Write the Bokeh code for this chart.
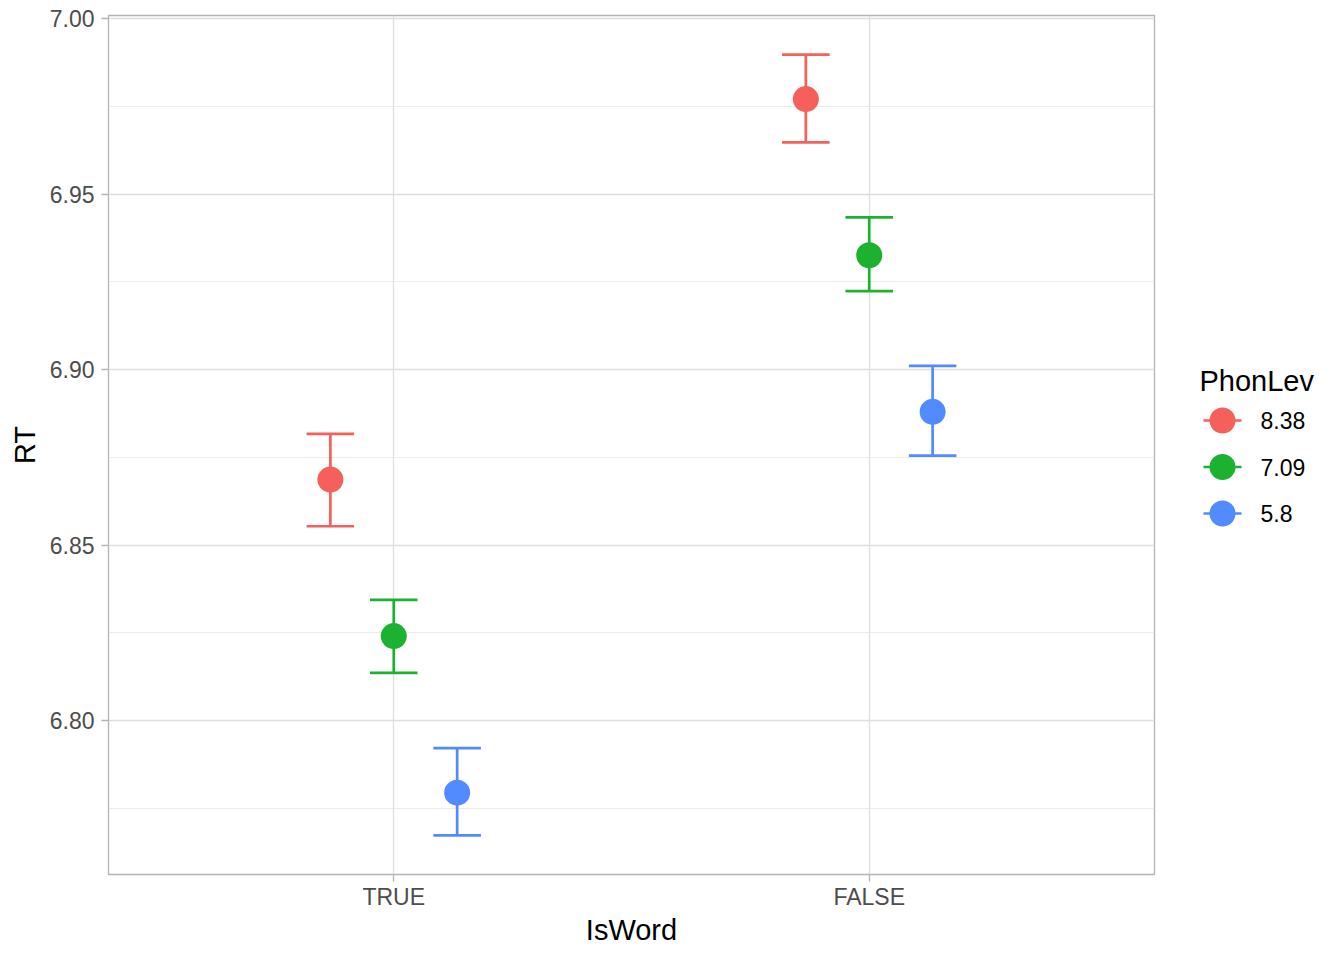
from bokeh.plotting import figure
from bokeh.models import ColumnDataSource, FactorRange, Range1d, SingleIntervalTicker, NumeralTickFormatter
from bokeh.transform import dodge
from bokeh.layouts import row
from bokeh.core.properties import value
from bokeh.embed import file_html
from bokeh.resources import INLINE

# ---------------- data ----------------
isword = ["TRUE", "FALSE"]
phonlev = ["8.38", "7.09", "5.8"]
colors = ["#F5605A", "#1CB230", "#528BFF"]

rt_838 = [6.8687, 6.9771]
lo_838 = [6.8554, 6.9648]
hi_838 = [6.8817, 6.9898]

rt_709 = [6.8241, 6.9326]
lo_709 = [6.8136, 6.9224]
hi_709 = [6.8344, 6.9434]

rt_58 = [6.7795, 6.8880]
lo_58 = [6.7673, 6.8755]
hi_58 = [6.7922, 6.9011]

means = [rt_838, rt_709, rt_58]
lows = [lo_838, lo_709, lo_58]
highs = [hi_838, hi_709, hi_58]

FONT = "Liberation Sans"

# ggplot-like 5% expansion of the y range
ymin = min(min(l) for l in lows)
ymax = max(max(h) for h in highs)
pad = (ymax - ymin) * 0.05

TOP, BOTTOM, LEFT, RIGHT = 15, 84, 108, 4
FW, FH = 1046, 859

p = figure(
    x_range=FactorRange(factors=isword, range_padding=0.1, range_padding_units="absolute"),
    y_range=Range1d(ymin - pad, ymax + pad),
    frame_width=FW, frame_height=FH,
    min_border_left=LEFT, min_border_right=RIGHT, min_border_top=TOP, min_border_bottom=BOTTOM,
    output_backend="svg", toolbar_location=None,
    background_fill_color="white", border_fill_color="white",
    x_axis_label="IsWord", y_axis_label="RT",
)

dodge_width = 0.4
cap_half = 0.05
n = len(phonlev)
for i, lev in enumerate(phonlev):
    off = (i - (n - 1) / 2) * dodge_width / n
    src = ColumnDataSource(dict(x=isword, y=means[i], lo=lows[i], hi=highs[i]))
    c = colors[i]
    p.segment(x0=dodge("x", off, range=p.x_range), x1=dodge("x", off, range=p.x_range),
              y0="lo", y1="hi", source=src, line_color=c, line_width=2.7)
    p.segment(x0=dodge("x", off - cap_half, range=p.x_range), x1=dodge("x", off + cap_half, range=p.x_range),
              y0="hi", y1="hi", source=src, line_color=c, line_width=2.7)
    p.segment(x0=dodge("x", off - cap_half, range=p.x_range), x1=dodge("x", off + cap_half, range=p.x_range),
              y0="lo", y1="lo", source=src, line_color=c, line_width=2.7)
    p.scatter(x=dodge("x", off, range=p.x_range), y="y", source=src, size=26,
              fill_color=c, line_color=c, line_width=0)

# axes
p.yaxis.ticker = SingleIntervalTicker(interval=0.05, num_minor_ticks=2)
p.yaxis.formatter = NumeralTickFormatter(format="0.00")
for ax in (p.xaxis, p.yaxis):
    ax.axis_line_color = None
    ax.major_tick_out = 7
    ax.major_tick_in = 0
    ax.major_tick_line_color = "#B3B3B3"
    ax.major_tick_line_width = 1.3
    ax.minor_tick_line_color = None
    ax.major_label_text_font = FONT
    ax.major_label_text_font_size = "23px"
    ax.major_label_text_color = "#4D4D4D"
    ax.axis_label_text_font = FONT
    ax.axis_label_text_font_size = "29px"
    ax.axis_label_text_font_style = "normal"
    ax.axis_label_text_color = "black"
p.xaxis.major_label_standoff = 2
p.yaxis.major_label_standoff = 7
p.xaxis.axis_label_standoff = 1
p.yaxis.axis_label_standoff = 6

p.xgrid.grid_line_color = "#DEDEDE"
p.xgrid.grid_line_width = 1.3
p.ygrid.grid_line_color = "#DEDEDE"
p.ygrid.grid_line_width = 1.3
p.ygrid.minor_grid_line_color = "#E6E6E6"
p.ygrid.minor_grid_line_width = 0.8

p.outline_line_color = "#B3B3B3"
p.outline_line_width = 1.3

# ---------------- legend (drawn as its own panel, same frame height) ----------------
leg_w = 1340 - (LEFT + FW + RIGHT)
# legend panel data coordinates == page pixels (y downward)
leg = figure(frame_width=leg_w, frame_height=FH,
             x_range=Range1d(0, leg_w), y_range=Range1d(TOP + FH, TOP),
             min_border_left=0, min_border_right=0, min_border_top=TOP, min_border_bottom=BOTTOM,
             x_axis_type=None, y_axis_type=None,
             output_backend="svg", toolbar_location=None,
             background_fill_color="white", border_fill_color="white")
leg.grid.visible = False
leg.outline_line_color = None

title_x, title_y = 41, 380
key_x, key_half = 64, 19
label_x = 102
entry_y0, entry_step = 420, 46.5
ys = [entry_y0 + entry_step * i for i in range(n)]

leg.text(x=[title_x], y=[title_y], text=["PhonLev"], text_baseline="alphabetic",
         text_align="left", text_font=value(FONT), text_font_size="29px", text_color="black")
lsrc = ColumnDataSource(dict(y=ys, c=colors, t=phonlev,
                             x0=[key_x - key_half] * n, x1=[key_x + key_half] * n,
                             xc=[key_x] * n, xl=[label_x] * n))
leg.segment(x0="x0", x1="x1", y0="y", y1="y", line_color="c", line_width=2.7, source=lsrc)
leg.scatter(x="xc", y="y", size=26, fill_color="c", line_color="c", line_width=0, source=lsrc)
leg.text(x="xl", y="y", text="t", text_baseline="middle", text_align="left",
         text_font=value(FONT), text_font_size="23px", text_color="black", source=lsrc)

layout = row(p, leg)
open("out.html", "w").write(file_html(layout, INLINE))
